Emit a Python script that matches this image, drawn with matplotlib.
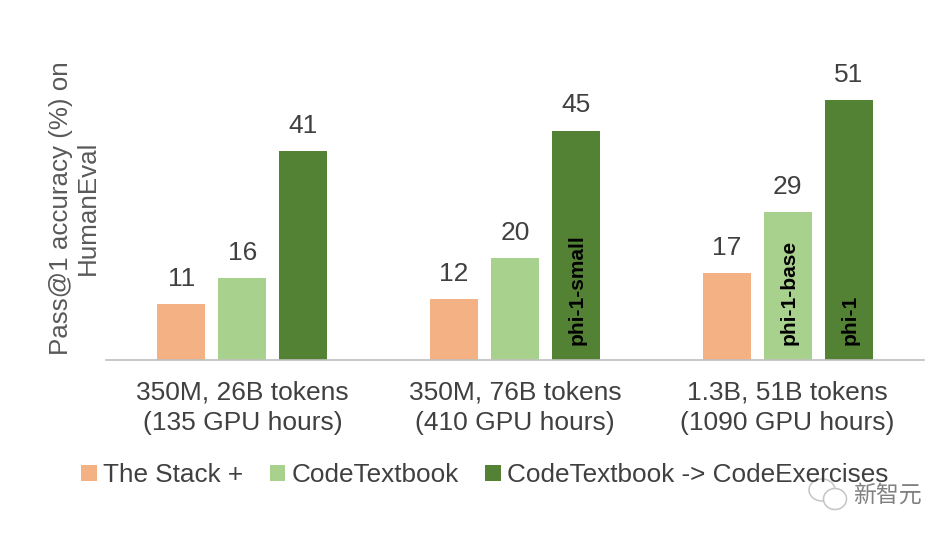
import matplotlib.pyplot as plt
from matplotlib.patches import Ellipse
import numpy as np

plt.rcParams['font.family'] = ['Liberation Sans', 'Noto Sans CJK SC', 'DejaVu Sans']

groups = ['350M, 26B tokens\n(135 GPU hours)', '350M, 76B tokens\n(410 GPU hours)', '1.3B, 51B tokens\n(1090 GPU hours)']
stack_vals = [11, 12, 17]
textbook_vals = [16, 20, 29]
exercises_vals = [41, 45, 51]
series_names = ['The Stack +', 'CodeTextbook', 'CodeTextbook -> CodeExercises']
colors = ['#F4B183', '#A9D18E', '#548235']
text_color = '#404040'

fig = plt.figure(figsize=(9.52, 5.35), dpi=100)
# axes spans the baseline, ylim chosen so 51 reaches the top of the tallest bar
ax = fig.add_axes([106 / 952, 1 - 360 / 535, (924 - 106) / 952, 300 / 535])
ax.set_xlim(0, 3)
ax.set_ylim(0, 300 / 260 * 51)

x = np.arange(3) + 0.5
w = 48 / (818 / 3)
step = 61 / (818 / 3)
bars = []
for i, (vals, c, name) in enumerate(zip([stack_vals, textbook_vals, exercises_vals], colors, series_names)):
    b = ax.bar(x + (i - 1) * step, vals, w, color=c, label=name)
    bars.append(b)
    for r, v in zip(b, vals):
        ax.text(r.get_x() + w / 2, v + 2.6, str(v), ha='center', va='bottom', fontsize=19, color=text_color)

# model names inside the bars
for r, s in [(bars[2][1], 'phi-1-small'), (bars[1][2], 'phi-1-base'), (bars[2][2], 'phi-1')]:
    ax.text(r.get_x() + w / 2 + 0.004, 2.9, s, rotation=90, ha='center', va='bottom',
            fontsize=15, fontweight='bold', color='black')

for s in ['top', 'right', 'left']:
    ax.spines[s].set_visible(False)
ax.spines['bottom'].set_color('#BFBFBF')
ax.spines['bottom'].set_linewidth(1.2)
ax.set_yticks([])
ax.set_xticks(x)
ax.set_xticklabels(groups, fontsize=19, color=text_color, linespacing=1.3)
ax.tick_params(axis='x', length=0, pad=15)
ax.set_ylabel('Pass@1 accuracy (%) on\nHumanEval', fontsize=18.7, color='#595959', linespacing=1.17)
ax.yaxis.set_label_coords(-0.0076, 0.506)

fig.legend(handles=[b[0] for b in bars], labels=series_names, loc='center', bbox_to_anchor=(485 / 952, 1 - 475 / 535),
           ncol=3, frameon=False, fontsize=18.8, labelcolor=text_color, handlelength=0.6, handleheight=0.6,
           handletextpad=0.25, columnspacing=1.0)

# watermark: two chat bubbles and the account name
bubble_ax = fig.add_axes([0, 0, 1, 1], facecolor='none')
bubble_ax.set_xlim(0, 952)
bubble_ax.set_ylim(535, 0)
bubble_ax.axis('off')
bubble_ax.add_patch(Ellipse((822, 490), 26, 22, fill=False, ec='#C4C4C4', lw=1.1))
bubble_ax.add_patch(Ellipse((835, 499), 23, 21, fill=True, fc='white', ec='#C4C4C4', lw=1.1))
fig.text(853 / 952, 1 - 495 / 535, '新智元', fontsize=16.5, color='#808080', va='center', ha='left')

fig.savefig('out.png', dpi=100)
